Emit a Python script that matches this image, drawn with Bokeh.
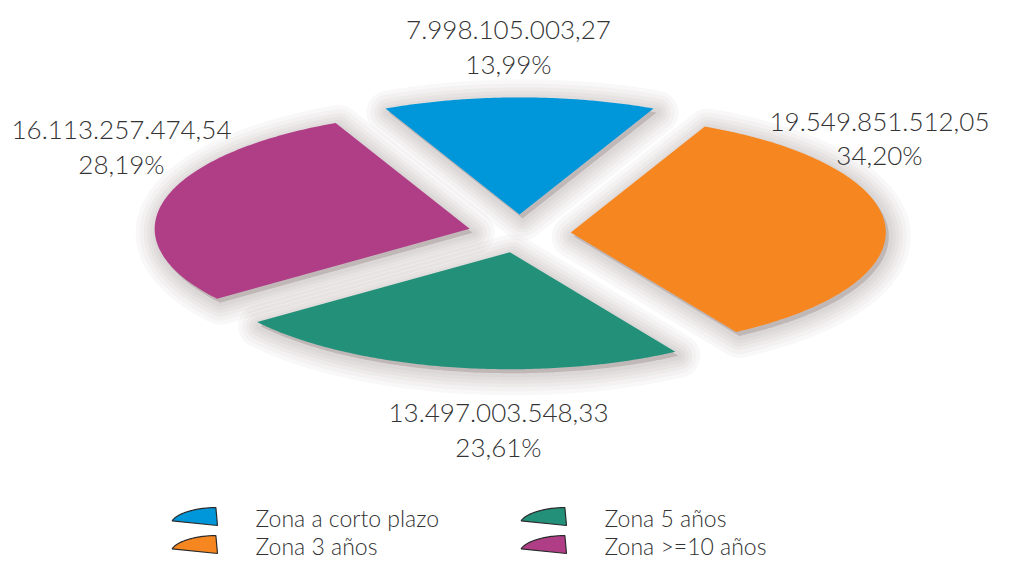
import numpy as np
from bokeh.plotting import figure
from bokeh.models import Range1d
from bokeh.core.properties import value
from bokeh.embed import file_html
from bokeh.resources import INLINE

# ---------------- data ----------------
categories = ["Zona a corto plazo", "Zona 3 años", "Zona 5 años", "Zona >=10 años"]
amounts = [7998105003.27, 19549851512.05, 13497003548.33, 16113257474.54]
amount_labels = ["7.998.105.003,27", "19.549.851.512,05", "13.497.003.548,33", "16.113.257.474,54"]
percent_labels = ["13,99%", "34,20%", "23,61%", "28,19%"]
colors = ["#0096da", "#f58620", "#23917a", "#b03e87"]

# ---------------- layout ----------------
W, H = 995, 559
CX, CY = 519, 233          # pie centre (px)
RA, RB = 315, 117          # ellipse radii
EXPLODE = 0.163            # explosion, fraction of radius
label_pos = [(508, 29, 63), (879, 121, 154), (498, 412, 446), (121, 129, 163)]
legend_cols = [255, 604]
legend_rows = [517, 545]   # text middles
FONT = "Lato Light"
TEXT_COLOR = "#333333"

p = figure(width=W, height=H, output_backend="svg", toolbar_location=None,
           x_range=Range1d(0, W), y_range=Range1d(H, 0),
           min_border=0, outline_line_color=None)
p.axis.visible = False
p.grid.visible = False
p.background_fill_color = "white"
p.border_fill_color = "white"

shares = np.array(amounts) / np.sum(amounts)
start = 90 + shares[0] * 360 / 2
bounds = start - np.concatenate([[0], np.cumsum(shares) * 360])

slice_xs, slice_ys = [], []
for i in range(len(amounts)):
    t0, t1 = np.radians(bounds[i]), np.radians(bounds[i + 1])
    mid = (t0 + t1) / 2
    ox = CX + EXPLODE * RA * np.cos(mid)
    oy = CY - EXPLODE * RB * np.sin(mid)
    t = np.linspace(t0, t1, 120)
    xs = np.concatenate([[ox], ox + RA * np.cos(t)])
    ys = np.concatenate([[oy], oy - RB * np.sin(t)])
    slice_xs.append(list(xs))
    slice_ys.append(list(ys))

# soft drop shadow
for w in [44, 36, 28, 21, 14, 8]:
    p.patches([list(np.array(x) + 3) for x in slice_xs],
              [list(np.array(y) + 4) for y in slice_ys],
              fill_color="#5a5050", fill_alpha=0.04,
              line_color="#5a5050", line_alpha=0.04, line_width=w,
              line_join="round")

p.patches(slice_xs, slice_ys, fill_color=colors, line_color=None)

# value labels
for i in range(len(amounts)):
    lx, ly1, ly2 = label_pos[i]
    p.text(x=[lx, lx], y=[ly1, ly2], text=[amount_labels[i], percent_labels[i]],
           text_align="center", text_baseline="middle",
           text_font=value(FONT), text_font_size="26px", text_color=TEXT_COLOR)

# legend (two columns, two rows)
for k, i in enumerate([0, 2, 1, 3]):
    col = k % 2
    row = k // 2
    tx = legend_cols[col]
    my = legend_rows[row]
    ax = tx - 38
    ay = my + 8
    tt = np.radians(np.linspace(165, 92, 40))
    sx = [ax] + list(ax + 47 * np.cos(tt))
    sy = [ay] + list(ay - 18 * np.sin(tt))
    p.patch(sx, sy, fill_color=colors[i], line_color="#2a2a2a", line_width=1.2)
    p.text(x=[tx], y=[my], text=[categories[i]], text_align="left",
           text_baseline="middle", text_font=value(FONT),
           text_font_size="23px", text_color=TEXT_COLOR)

open("out.html", "w").write(file_html(p, INLINE))
